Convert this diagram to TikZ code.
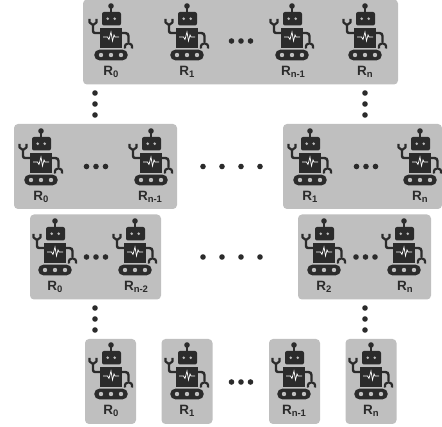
\documentclass[tikz,border=0pt]{standalone}
\usepackage{fontspec}
\setmainfont{Liberation Sans}
\usepackage{xcolor}
\usetikzlibrary{positioning}
\definecolor{panelgray}{HTML}{BFBFBF}
\definecolor{robotdark}{HTML}{2B2B2B}
\newcommand{\rname}[1]{R\raisebox{-2.6pt}{\fontsize{9.5}{9.5}\selectfont #1}}

\begin{document}
\begin{tikzpicture}[x=1pt, y=-1pt,
panel/.style={fill=panelgray,rounded corners=4pt,inner sep=0pt,minimum height=85pt},
lab/.style={font=\fontsize{13.5}{13.5}\selectfont\bfseries,text=robotdark,inner sep=0pt},
robot/.pic={
\draw[robotdark,line width=1.6pt] (0,-27) -- (0,-20);
\fill[robotdark] (0,-27) circle (2.8);
\fill[robotdark,rounded corners=2pt] (-9,-21) rectangle (10,-7.5);
\fill[panelgray] (-3.3,-14.3) circle (1.4) (3.7,-14.3) circle (1.4);
\fill[robotdark] (-11.3,-5) rectangle (11,15);
\draw[white,line width=.7pt] (-8,4) -- (-3.5,4) -- (-2,6.5) -- (0,-1) -- (1.5,8) -- (3,2) -- (4,4) -- (8,4);
\draw[robotdark,line width=2.4pt,rounded corners=2pt] (-11,0) -- (-18,0) -- (-18,-9);
\draw[robotdark,line width=2.2pt,line join=round] (-21.5,-14) -- (-21.5,-10.5) -- (-18,-8) -- (-14.5,-10.5) -- (-14.5,-14);
\draw[robotdark,line width=2.4pt,rounded corners=3pt] (11,0) -- (17.5,0) -- (17.5,9);
\draw[robotdark,line width=2.2pt] (14,15.5) .. controls (12.5,8.5) and (22.5,8.5) .. (21,15.5);
\fill[robotdark,rounded corners=5pt] (-16.7,16.7) rectangle (16.7,27.3);
\fill[panelgray] (-10,22) circle (2.2) (0,22) circle (2.2) (10,22) circle (2.2);
},
hdots/.pic={\fill[robotdark] (-9.5,0) circle (2.8) (0,0) circle (2.8) (9.5,0) circle (2.8);},
vdots/.pic={\fill[robotdark] (0,-11) circle (2.8) (0,0) circle (2.8) (0,11) circle (2.8);},
wdots/.pic={\fill[robotdark] (-28.5,0) circle (2.8) (-9.5,0) circle (2.8) (9.5,0) circle (2.8) (28.5,0) circle (2.8);}]
\useasboundingbox (0,0) rectangle (442,427);
% panels
\node[panel,minimum width=315pt] (pTop) at (240.5,42) {};
\node[panel,minimum width=163pt] (pLeftA) at (95.5,166.5) {};
\node[panel,minimum width=159pt] (pRightA) at (362.5,166.5) {};
\node[panel,minimum width=131pt] (pLeftB) at (95.5,257) {};
\node[panel,minimum width=133pt] (pRightB) at (364.5,257) {};
\node[panel,minimum width=51pt] (pBot0) at (110.5,381.5) {};
\node[panel,minimum width=51pt] (pBot1) at (187,381.5) {};
\node[panel,minimum width=51pt] (pBot2) at (294.5,381.5) {};
\node[panel,minimum width=51pt] (pBot3) at (371,381.5) {};
% top row
\pic (rTop0) at (111,33) {robot};
\pic (rTop1) at (187,33) {robot};
\pic (rTop2) at (292,33) {robot};
\pic (rTop3) at (365,33) {robot};
\node[lab] (lTop0) at (111,72) {\rname{0}};
\node[lab] (lTop1) at (187,72) {\rname{1}};
\node[lab] (lTop2) at (293,72) {\rname{n-1}};
\node[lab] (lTop3) at (365,72) {\rname{n}};
% second row
\pic (rLeftA0) at (41,158) {robot};
\pic (rLeftA1) at (151,158) {robot};
\pic (rRightA0) at (310,158) {robot};
\pic (rRightA1) at (420,158) {robot};
\node[lab] (lLeftA0) at (41,197) {\rname{0}};
\node[lab] (lLeftA1) at (150,197) {\rname{n-1}};
\node[lab] (lRightA0) at (310,197) {\rname{1}};
\node[lab] (lRightA1) at (420,197) {\rname{n}};
% third row
\pic (rLeftB0) at (55,248) {robot};
\pic (rLeftB1) at (135,248) {robot};
\pic (rRightB0) at (324,248) {robot};
\pic (rRightB1) at (404,248) {robot};
\node[lab] (lLeftB0) at (55,287) {\rname{0}};
\node[lab] (lLeftB1) at (136,287) {\rname{n-2}};
\node[lab] (lRightB0) at (324,287) {\rname{2}};
\node[lab] (lRightB1) at (405,287) {\rname{n}};
% bottom row
\pic (rBot0) at (111,372) {robot};
\pic (rBot1) at (187,372) {robot};
\pic (rBot2) at (294,372) {robot};
\pic (rBot3) at (371,372) {robot};
\node[lab] (lBot0) at (111,411) {\rname{0}};
\node[lab] (lBot1) at (187,411) {\rname{1}};
\node[lab] (lBot2) at (294,411) {\rname{n-1}};
\node[lab] (lBot3) at (371,411) {\rname{n}};
% dots
\pic (dTop) at (241,41) {hdots};
\pic (dLeftA) at (96,166.5) {hdots};
\pic (dRightA) at (366,166.5) {hdots};
\pic (dLeftB) at (96,257) {hdots};
\pic (dRightB) at (365.5,257) {hdots};
\pic (dBot) at (241,382) {hdots};
\pic (dMidA) at (231.5,166.5) {wdots};
\pic (dMidB) at (231.5,257) {wdots};
\pic (dUpL) at (95,104) {vdots};
\pic (dUpR) at (365,104) {vdots};
\pic (dLowL) at (95,319) {vdots};
\pic (dLowR) at (365,319) {vdots};
\end{tikzpicture}
\end{document}
